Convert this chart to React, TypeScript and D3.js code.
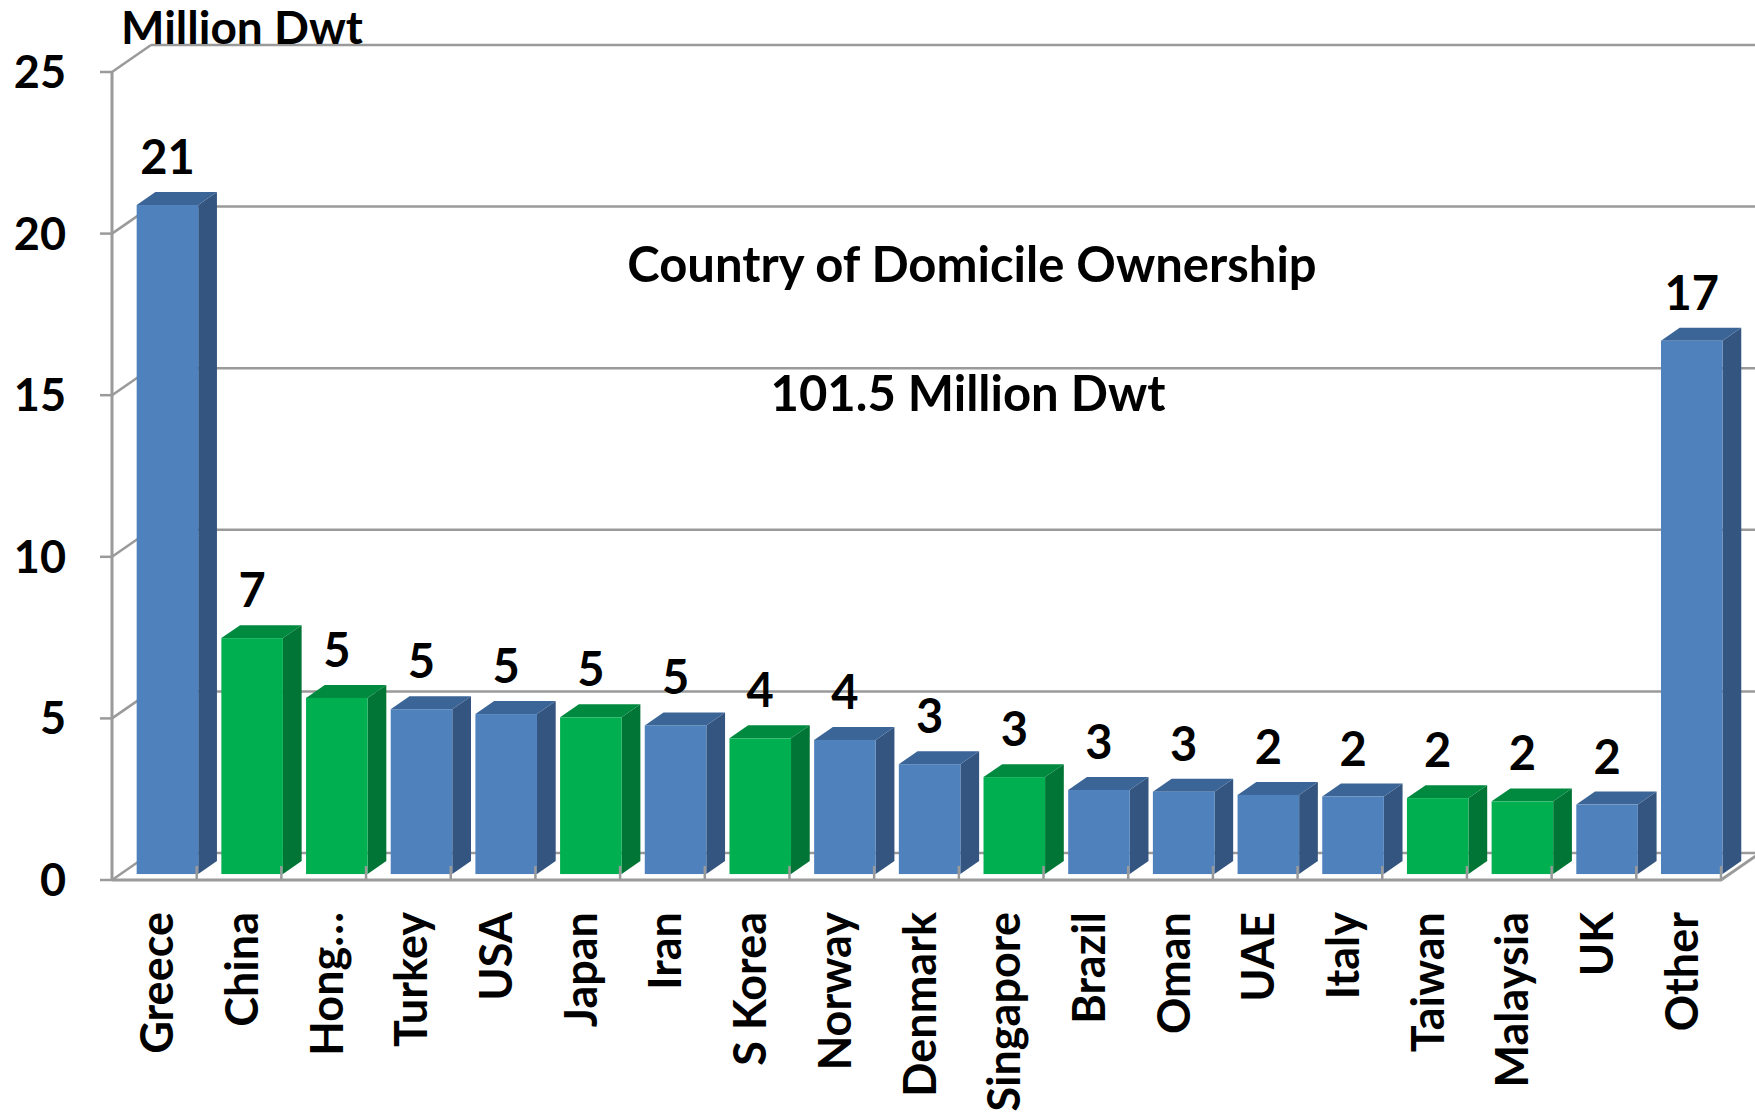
import React, { useEffect, useRef } from "react";
import * as d3 from "d3";

// Fleet owned by country of domicile, million dwt
const countries = ["Greece", "China", "Hong…", "Turkey", "USA", "Japan", "Iran", "S Korea", "Norway", "Denmark", "Singapore", "Brazil", "Oman", "UAE", "Italy", "Taiwan", "Malaysia", "UK", "Other"];
const dwt = [20.7, 7.3, 5.45, 5.1, 4.95, 4.85, 4.6, 4.2, 4.15, 3.4, 3.0, 2.6, 2.55, 2.45, 2.4, 2.35, 2.25, 2.15, 16.5];
const region = ["rest", "asia", "asia", "rest", "rest", "asia", "rest", "asia", "rest", "rest", "asia", "rest", "rest", "rest", "rest", "asia", "asia", "rest", "rest"];
const yTicks = [0, 5, 10, 15, 20, 25];

const title = "Country of Domicile Ownership";
const subtitle = "101.5 Million Dwt";
const unitLabel = "Million Dwt";

const palette: Record<string, { front: string; side: string; top: string }> = {
  rest: { front: "#4f81bd", side: "#34557f", top: "#3c6597" },
  asia: { front: "#00b050", side: "#007535", top: "#008a3f" },
};

export default function App() {
  const ref = useRef<SVGSVGElement>(null);

  useEffect(() => {
    const width = 1755;
    const left = 112, right = 1721;
    const dx = 39, dy = -27; // depth of the 3d box
    const f0 = 0.22, f1 = 0.7; // bar depth position
    const font = "Lato, 'Open Sans', sans-serif";
    const grid = "#9a9a9a";

    const svg = d3.select(ref.current);
    svg.selectAll("*").remove();

    const x = d3.scaleBand().domain(countries).range([left, right]).padding(0);
    const y = d3.scaleLinear().domain([0, 25]).range([880, 72]);
    const step = x.step();

    // back wall gridlines
    svg.selectAll("line.grid")
      .data(yTicks)
      .enter()
      .append("line")
      .attr("x1", left + dx)
      .attr("x2", width + 10)
      .attr("y1", d => y(d) + dy)
      .attr("y2", d => y(d) + dy)
      .attr("stroke", grid)
      .attr("stroke-width", 2.5);

    // side wall diagonals
    svg.selectAll("line.side")
      .data(yTicks)
      .enter()
      .append("line")
      .attr("x1", left)
      .attr("x2", left + dx)
      .attr("y1", d => y(d))
      .attr("y2", d => y(d) + dy)
      .attr("stroke", grid)
      .attr("stroke-width", 2.5);

    // floor front edge
    svg.append("polyline")
      .attr("points", [[left, y(0)], [right, y(0)], [right + dx, y(0) + dy]].join(" "))
      .attr("fill", "none")
      .attr("stroke", grid)
      .attr("stroke-width", 3);

    // bars
    const bars = svg.selectAll("g.bar")
      .data(countries.map((c, i) => ({ c, v: dwt[i], r: region[i] })))
      .enter()
      .append("g");

    const bx = (c: string) => (x(c) as number) + step * 0.19 + f0 * dx;
    const bw = step * 0.727;
    const ddx = (f1 - f0) * dx, ddy = (f1 - f0) * dy;
    const top = (v: number) => y(v) + f0 * dy;
    const base = y(0) + f0 * dy;

    bars.append("polygon")
      .attr("points", d => [[bx(d.c) + bw, top(d.v)], [bx(d.c) + bw + ddx, top(d.v) + ddy], [bx(d.c) + bw + ddx, base + ddy], [bx(d.c) + bw, base]].join(" "))
      .attr("fill", d => palette[d.r].side);
    bars.append("polygon")
      .attr("points", d => [[bx(d.c), top(d.v)], [bx(d.c) + ddx, top(d.v) + ddy], [bx(d.c) + bw + ddx, top(d.v) + ddy], [bx(d.c) + bw, top(d.v)]].join(" "))
      .attr("fill", d => palette[d.r].top);
    bars.append("rect")
      .attr("x", d => bx(d.c))
      .attr("y", d => top(d.v))
      .attr("width", bw)
      .attr("height", d => base - top(d.v))
      .attr("fill", d => palette[d.r].front);

    // value labels
    bars.append("text")
      .attr("x", d => bx(d.c) + bw / 2)
      .attr("y", d => top(d.v) + ddy - 18)
      .attr("text-anchor", "middle")
      .style("font-family", font)
      .style("font-weight", 700)
      .style("font-size", "47px")
      .text(d => d3.format(".0f")(d.v));

    // floor ticks
    svg.selectAll("line.xtick")
      .data(countries)
      .enter()
      .append("line")
      .attr("x1", d => (x(d) as number) + step)
      .attr("x2", d => (x(d) as number) + step)
      .attr("y1", y(0))
      .attr("y2", y(0) - 14)
      .attr("stroke", grid)
      .attr("stroke-width", 2.5);

    // y axis
    svg.append("line")
      .attr("x1", left).attr("x2", left)
      .attr("y1", y(25)).attr("y2", y(0))
      .attr("stroke", grid)
      .attr("stroke-width", 3);
    svg.selectAll("line.ytick")
      .data(yTicks)
      .enter()
      .append("line")
      .attr("x1", left - 12)
      .attr("x2", left)
      .attr("y1", d => y(d))
      .attr("y2", d => y(d))
      .attr("stroke", grid)
      .attr("stroke-width", 2.5);
    svg.selectAll("text.ylab")
      .data(yTicks)
      .enter()
      .append("text")
      .attr("x", 66)
      .attr("y", d => y(d) + 16)
      .attr("text-anchor", "end")
      .style("font-family", font)
      .style("font-weight", 700)
      .style("font-size", "45px")
      .text(d => d);

    // category labels
    svg.selectAll("text.xlab")
      .data(countries)
      .enter()
      .append("text")
      .attr("transform", d => `translate(${(x(d) as number) + step / 2 + 19},912) rotate(-90)`)
      .attr("text-anchor", "end")
      .style("font-family", font)
      .style("font-weight", 700)
      .style("font-size", "45px")
      .text(d => d);

    // titles
    svg.append("text")
      .attr("x", 121).attr("y", 44)
      .style("font-family", font)
      .style("font-weight", 700)
      .style("font-size", "46px")
      .text(unitLabel);
    svg.append("text")
      .attr("x", 972).attr("y", 282)
      .attr("text-anchor", "middle")
      .style("font-family", font)
      .style("font-weight", 700)
      .style("font-size", "49px")
      .text(title);
    svg.append("text")
      .attr("x", 968).attr("y", 411)
      .attr("text-anchor", "middle")
      .style("font-family", font)
      .style("font-weight", 700)
      .style("font-size", "49px")
      .text(subtitle);
  }, []);

  return (
    <div style={{ position: "fixed", left: 0, top: 0, background: "#fff" }}>
      <svg ref={ref} width={1755} height={1114} style={{ display: "block" }} />
    </div>
  );
}
